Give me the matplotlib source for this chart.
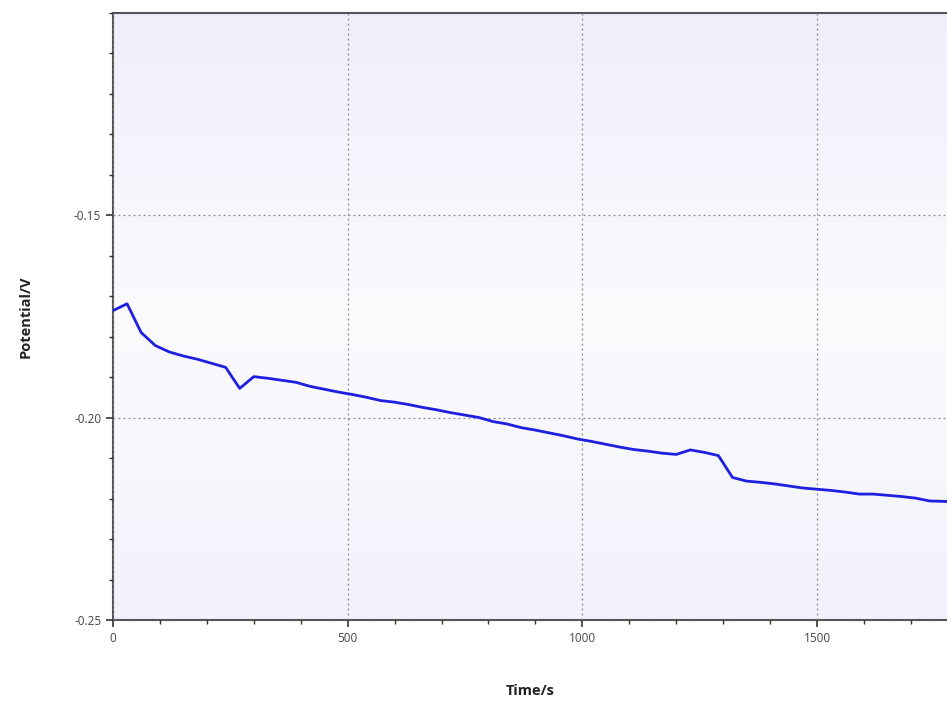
import matplotlib.pyplot as plt
import numpy as np
from matplotlib.ticker import MultipleLocator, FormatStrFormatter
from matplotlib.colors import LinearSegmentedColormap

plt.rcParams['font.family'] = ['Open Sans', 'DejaVu Sans']

# Open circuit potential vs time
time_s = [0, 30, 60, 90, 120, 150, 180, 210, 240, 270, 300, 330, 360, 390,
          420, 450, 480, 510, 540, 570, 600, 630, 660, 690, 720, 750, 780,
          810, 840, 870, 900, 930, 960, 990, 1020, 1050, 1080, 1110, 1140,
          1170, 1200, 1230, 1260, 1290, 1320, 1350, 1380, 1410, 1440, 1470,
          1500, 1530, 1560, 1590, 1620, 1650, 1680, 1710, 1740, 1770, 1800]
potential_v = [-0.1736, -0.1719, -0.1790, -0.1822, -0.1838, -0.1848, -0.1856,
               -0.1866, -0.1876, -0.1928, -0.1899, -0.1903, -0.1908, -0.1913,
               -0.1923, -0.1930, -0.1937, -0.1943, -0.1950, -0.1958, -0.1962,
               -0.1968, -0.1975, -0.1981, -0.1988, -0.1994, -0.2000, -0.2010,
               -0.2016, -0.2025, -0.2031, -0.2038, -0.2045, -0.2053, -0.2059,
               -0.2066, -0.2073, -0.2079, -0.2083, -0.2088, -0.2091, -0.2080,
               -0.2086, -0.2094, -0.2148, -0.2157, -0.2160, -0.2164, -0.2169,
               -0.2174, -0.2177, -0.2180, -0.2184, -0.2189, -0.2189, -0.2192,
               -0.2195, -0.2199, -0.2206, -0.2207, -0.2209]

fig = plt.figure(figsize=(9.47, 7.02), dpi=100)
ax = fig.add_axes([0.1193, 0.1168, 0.8807, 0.8652])

# soft lavender gradient background
cmap = LinearSegmentedColormap.from_list(
    'bg', [(0.0, '#f2f2fc'), (0.5, '#fbfbfe'), (1.0, '#eeeffb')])
grad = np.linspace(0, 1, 256).reshape(-1, 1)
ax.imshow(grad, extent=[0, 1, 0, 1], transform=ax.transAxes, aspect='auto',
          cmap=cmap, origin='lower', zorder=0)

ax.plot(time_s, potential_v, color='#1f1fe0', lw=2.0, zorder=3)

ax.set_xlim(0, 1777)
ax.set_ylim(-0.25, -0.10)
ax.xaxis.set_major_locator(MultipleLocator(500))
ax.xaxis.set_minor_locator(MultipleLocator(100))
ax.yaxis.set_major_locator(MultipleLocator(0.05))
ax.yaxis.set_minor_locator(MultipleLocator(0.01))
ax.yaxis.set_major_formatter(FormatStrFormatter('%.2f'))
ax.set_yticks([-0.25, -0.20, -0.15])

ax.grid(True, which='major', linestyle=(0, (1.5, 2.5)), color='#888888', lw=0.9)
ax.set_axisbelow(False)

ax.tick_params(which='major', direction='out', length=5, width=1.2,
               colors='#333333', labelsize=8.5, labelcolor='#444444')
ax.tick_params(which='minor', direction='out', length=3, width=1.0,
               colors='#333333')

for side in ['left', 'bottom', 'top']:
    ax.spines[side].set_color('#555555')
    ax.spines[side].set_linewidth(1.5)
ax.spines['right'].set_visible(False)

ax.set_xlabel('Time/s', fontsize=10.5, fontweight='bold', color='#222222', labelpad=28)
ax.set_ylabel('Potential/V', fontsize=10.5, fontweight='bold', color='#222222', labelpad=30)

fig.savefig('out.png', dpi=100)
